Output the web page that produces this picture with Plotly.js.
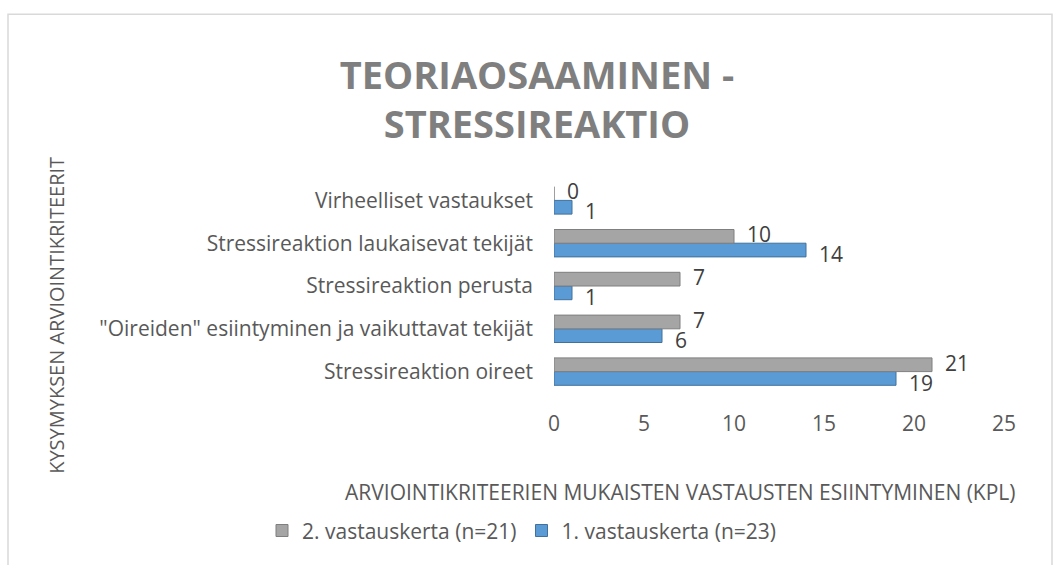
<!DOCTYPE html>
<html>
<head>
<meta charset="utf-8">
<script src="https://cdn.plot.ly/plotly-3.0.1.min.js"></script>
<style>html,body{margin:0;padding:0;background:#fff;}#chart{width:1054px;height:565px;}</style>
</head>
<body>
<div id="chart"></div>
<script>
// Categories (bottom to top as drawn)
var categories = [
  "Stressireaktion oireet",
  "\"Oireiden\" esiintyminen ja vaikuttavat tekijät",
  "Stressireaktion perusta",
  "Stressireaktion laukaisevat tekijät",
  "Virheelliset vastaukset"
];
var seriesNames = ["1. vastauskerta (n=23)", "2. vastauskerta (n=21)"];
var firstRound = [19, 6, 1, 14, 1];
var secondRound = [21, 7, 7, 10, 0];
var xTickValues = [0, 5, 10, 15, 20, 25];

var titleText = "TEORIAOSAAMINEN -<br>STRESSIREAKTIO";
var xTitle = "ARVIOINTIKRITEERIEN MUKAISTEN VASTAUSTEN ESIINTYMINEN (KPL)";
var yTitle = "KYSYMYKSEN ARVIOINTIKRITEERIT";

var FONT = "Open Sans, Noto Sans, sans-serif";

var traces = [
  {
    type: "bar", orientation: "h", name: seriesNames[0],
    y: categories, x: firstRound,
    marker: {color: "#5b9bd5", line: {color: "#41719c", width: 1}},
    hoverinfo: "x+name"
  },
  {
    type: "bar", orientation: "h", name: seriesNames[1],
    y: categories, x: secondRound,
    marker: {color: "#a5a5a5", line: {color: "#7f7f7f", width: 1}},
    hoverinfo: "x+name"
  }
];

var L = 554, R = 1004, T = 178.5, B = 393.5, W = 1054, H = 565;
function px2x(p){ return (p - L) / (R - L); }
function px2y(p){ return (B - p) / (B - T); }

// data labels next to the bar ends (gray slightly above, blue slightly below)
function labelAnn(vals, yshift){
  return vals.map(function(v, i){
    return {x: v, y: categories[i], xref: "x", yref: "y", text: String(v),
      xanchor: "left", yanchor: "middle", xshift: 11, yshift: yshift,
      showarrow: false, font: {family: FONT, size: 21, color: "#404040"}};
  });
}

var annotations = [
  {text: xTitle, xref: "paper", yref: "paper", x: px2x(680), y: px2y(493),
   xanchor: "center", yanchor: "middle", showarrow: false,
   font: {family: FONT, size: 21, color: "#595959"}},
  {text: yTitle, xref: "paper", yref: "paper", x: px2x(57), y: px2y(316),
   xanchor: "center", yanchor: "middle", showarrow: false, textangle: -90,
   font: {family: FONT, size: 20, color: "#595959"}}
].concat(labelAnn(secondRound, 9)).concat(labelAnn(firstRound, -11));

var layout = {
  width: W, height: H,
  margin: {l: L, r: W - R, t: T, b: H - B, pad: 0},
  paper_bgcolor: "#ffffff", plot_bgcolor: "#ffffff",
  font: {family: FONT, color: "#595959", size: 21},
  barmode: "group", bargap: 0.36, bargroupgap: 0,
  title: {
    text: titleText, x: 537 / W, xref: "container", xanchor: "center",
    y: 1 - 89 / H, yref: "container", yanchor: "middle",
    font: {family: FONT, size: 38, color: "#7f7f7f", weight: "bold"}
  },
  xaxis: {
    range: [0, 25], autorange: false, tickvals: xTickValues, showgrid: false, zeroline: false,
    showline: false, ticks: "", ticklabelstandoff: 16,
    tickfont: {family: FONT, size: 21, color: "#595959"}, fixedrange: true
  },
  yaxis: {
    type: "category", range: [-0.5, categories.length - 0.5], autorange: false,
    showgrid: false, zeroline: false, showline: false,
    ticks: "", ticklabelstandoff: 20,
    tickfont: {family: FONT, size: 21, color: "#595959"}, fixedrange: true
  },
  showlegend: true,
  legend: {
    orientation: "h", traceorder: "reversed",
    x: px2x(262), xanchor: "left", y: px2y(532), yanchor: "middle",
    font: {family: FONT, size: 21, color: "#595959"},
    itemwidth: 30,
    bgcolor: "rgba(0,0,0,0)"
  },
  annotations: annotations,
  shapes: [
    {type: "rect", xref: "paper", yref: "paper",
     x0: px2x(8), x1: px2x(1052), y0: px2y(13), y1: px2y(580),
     line: {color: "#d9d9d9", width: 1.5}, fillcolor: "rgba(0,0,0,0)", layer: "below"}
  ]
};

Plotly.newPlot("chart", traces, layout, {displayModeBar: false, staticPlot: true});
</script>
</body>
</html>
